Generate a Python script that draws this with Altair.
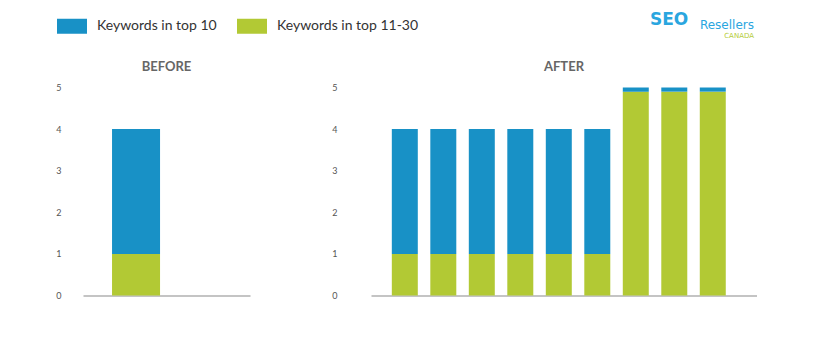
import altair as alt
import pandas as pd

# ---- data ----
series = ["Keywords in top 10", "Keywords in top 11-30"]
colors = ["#1891c6", "#b2c934"]

before_cats = ["B1"]
before_top10 = [3]
before_top11_30 = [1]

after_cats = ["A1", "A2", "A3", "A4", "A5", "A6", "A7", "A8", "A9"]
after_top10 = [3, 3, 3, 3, 3, 3, 0.1, 0.1, 0.1]
after_top11_30 = [1, 1, 1, 1, 1, 1, 4.9, 4.9, 4.9]

y_ticks = [0, 1, 2, 3, 4, 5]
panel_titles = ["BEFORE", "AFTER"]
logo_words = ["SEO", "Resellers", "CANADA"]


def long_df(cats, top10, top11):
    rows = []
    for c, a, b in zip(cats, top10, top11):
        rows.append({"cat": c, "series": series[1], "value": b, "ord": 0})
        rows.append({"cat": c, "series": series[0], "value": a, "ord": 1})
    return pd.DataFrame(rows)


def bars(df, cats, pad_inner, pad_outer, align, label_pad):
    return alt.Chart(df).mark_bar().encode(
        x=alt.X(
            "cat:N",
            sort=cats,
            scale=alt.Scale(domain=cats, paddingInner=pad_inner,
                            paddingOuter=pad_outer, align=align),
            axis=alt.Axis(title=None, labels=False, ticks=False, grid=False,
                          domain=True, domainColor="#c4c4c4", domainWidth=2),
        ),
        y=alt.Y(
            "value:Q",
            stack="zero",
            scale=alt.Scale(domain=[0, 5], nice=False),
            axis=alt.Axis(title=None, values=y_ticks, domain=False, ticks=False,
                          grid=False, labelPadding=label_pad, labelFontSize=9,
                          labelColor="#555555", labelFont="Lato"),
        ),
        color=alt.Color(
            "series:N",
            scale=alt.Scale(domain=series, range=colors),
            legend=alt.Legend(title=None),
        ),
        order=alt.Order("ord:Q"),
    )


def text(word, x, y, size, color, weight, font, align="left", baseline="alphabetic"):
    return alt.Chart(pd.DataFrame({"w": [word]})).mark_text(
        font=font, fontSize=size, fontWeight=weight, color=color,
        align=align, baseline=baseline,
    ).encode(x=alt.value(x), y=alt.value(y), text="w:N")


BW, AW, H = 167, 386, 208

before = alt.layer(
    bars(long_df(before_cats, before_top10, before_top11_30),
         before_cats, 0.193, 1, 0.244, 22),
    text(panel_titles[0], BW / 2, -21, 13, "#666666", "bold", "Lato", "center", "middle"),
).properties(width=BW, height=H)

after = alt.layer(
    bars(long_df(after_cats, after_top10, after_top11_30),
         after_cats, 0.325, 0.676, 0.4, 34),
    text(panel_titles[1], AW / 2, -21, 13, "#666666", "bold", "Lato", "center", "middle"),
    text(logo_words[0], 279, -75.5, 17, "#2aa6df", "bold", "DejaVu Sans", "left", "top"),
    text(logo_words[1], 383, -58.7, 12, "#2aa6df", "normal", "DejaVu Sans", "right"),
    text(logo_words[2], 383, -50, 7, "#b5cc3a", "normal", "DejaVu Sans", "right"),
).properties(width=AW, height=H)

chart = alt.hconcat(before, after, spacing=81).properties(
    padding={"left": 55, "top": 10.5, "right": 0, "bottom": 0}
).configure_view(stroke=None).configure_legend(
    orient="none", legendX=-26, legendY=-76.5, direction="horizontal",
    symbolType="M-1,-0.5H1V0.5H-1Z", symbolSize=900, symbolStrokeWidth=0,
    symbolOpacity=1, labelFont="Lato", labelFontSize=14, labelColor="#333333",
    labelOffset=10, columnPadding=20, padding=0, labelLimit=300,
)

chart.save("out.html", embed_options={"renderer": "svg", "actions": False})
